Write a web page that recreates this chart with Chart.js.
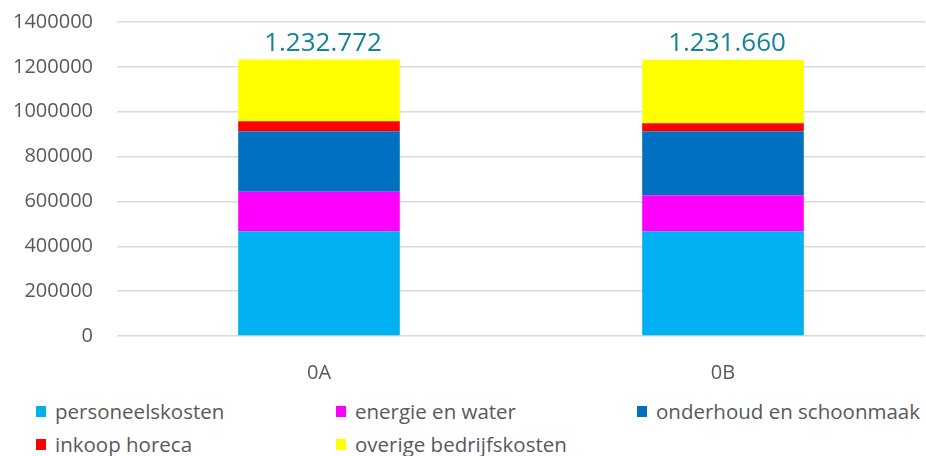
<!DOCTYPE html>
<html>
<head>
<meta charset="utf-8">
<script src="https://cdn.jsdelivr.net/npm/chart.js@4"></script>
<style>
  html, body { margin: 0; padding: 0; background: #fff; }
  #wrap { position: relative; width: 926px; height: 456px; }
  #chart { position: absolute; left: 0; top: 0; }
  #legend { position: absolute; left: 0; top: 399px; width: 926px; font-family: "Open Sans", sans-serif; font-size: 20.5px; color: #595959; }
  .item { position: absolute; white-space: nowrap; line-height: 24px; }
  .box { position: absolute; width: 10px; height: 11px; top: 7px; }
  .lbl { position: absolute; left: 19px; top: 0; }
</style>
</head>
<body>
<div id="wrap">
  <canvas id="chart" width="926" height="394"></canvas>
  <div id="legend"></div>
</div>
<script>
// categorieën en reeksen
const categories = ["0A", "0B"];
const seriesNames = ["personeelskosten", "energie en water", "onderhoud en schoonmaak", "inkoop horeca", "overige bedrijfskosten"];
const seriesColors = ["#00B0F0", "#FF00FF", "#0070C0", "#FF0000", "#FFFF00"];

const personeelskosten = [466800, 466800];
const energieEnWater = [176600, 160500];
const onderhoudSchoonmaak = [269100, 285200];
const inkoopHoreca = [44500, 35600];
const overigeBedrijfskosten = [275772, 283560];

const yTicks = [0, 200000, 400000, 600000, 800000, 1000000, 1200000, 1400000];

const seriesValues = [personeelskosten, energieEnWater, onderhoudSchoonmaak, inkoopHoreca, overigeBedrijfskosten];

// totaal per staaf, met punten als duizendtal-scheiding
function formatNL(n) {
  return String(Math.round(n)).replace(/\B(?=(\d{3})+(?!\d))/g, ".");
}

const totalsPlugin = {
  id: "totals",
  afterDatasetsDraw(chart) {
    const ctx = chart.ctx;
    const last = chart.getDatasetMeta(chart.data.datasets.length - 1);
    ctx.save();
    ctx.font = "26px 'Open Sans', sans-serif";
    ctx.fillStyle = "#14829A";
    ctx.textAlign = "center";
    ctx.textBaseline = "alphabetic";
    categories.forEach((c, i) => {
      const total = seriesValues.reduce((s, arr) => s + arr[i], 0);
      const el = last.data[i];
      ctx.fillText(formatNL(total), el.x + 4, el.y - 9);
    });
    ctx.restore();
  }
};

const chart = new Chart(document.getElementById("chart"), {
  type: "bar",
  data: {
    labels: categories,
    datasets: seriesNames.map((name, i) => ({
      label: name,
      data: seriesValues[i],
      backgroundColor: seriesColors[i],
      barPercentage: 0.4,
      categoryPercentage: 1
    }))
  },
  options: {
    responsive: false,
    animation: false,
    layout: { padding: { top: 0, right: 1, left: 0, bottom: 0 } },
    plugins: { legend: { display: false }, tooltip: { enabled: false } },
    scales: {
      x: {
        stacked: true,
        grid: { display: false },
        border: { display: false },
        ticks: { color: "#595959", font: { family: "Open Sans", size: 20 }, padding: 17 },
        afterFit(scale) { scale.height = 394 - 336; }
      },
      y: {
        stacked: true,
        min: 0,
        max: 1400000,
        afterBuildTicks(scale) { scale.ticks = yTicks.map(v => ({ value: v })); },
        grid: { color: "#D9D9D9", lineWidth: 1.5, drawTicks: false },
        border: { display: false },
        ticks: {
          color: "#595959",
          font: { family: "Open Sans", size: 20 },
          padding: 24,
          callback: v => String(v)
        },
        afterFit(scale) {
          scale.width = 117;
          scale.paddingTop = 22;
          scale.paddingBottom = 0;
        }
      }
    }
  },
  plugins: [totalsPlugin]
});

// legenda in kolommen zoals in het origineel
const legendPos = [[36, 0], [336, 0], [637, 0], [36, 33], [336, 33]];
const legend = document.getElementById("legend");
chart.data.datasets.forEach((ds, i) => {
  const item = document.createElement("div");
  item.className = "item";
  item.style.left = legendPos[i][0] + "px";
  item.style.top = legendPos[i][1] + "px";
  const box = document.createElement("span");
  box.className = "box";
  box.style.background = ds.backgroundColor;
  const lbl = document.createElement("span");
  lbl.className = "lbl";
  lbl.textContent = ds.label;
  item.appendChild(box);
  item.appendChild(lbl);
  legend.appendChild(item);
});
</script>
</body>
</html>
